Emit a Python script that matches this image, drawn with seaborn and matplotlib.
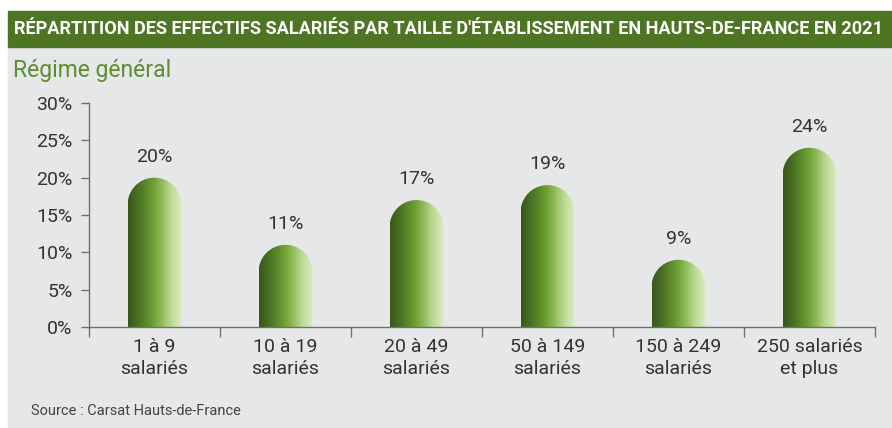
import matplotlib
matplotlib.use('Agg')
import matplotlib.pyplot as plt
import seaborn as sns
import pandas as pd
import numpy as np
from matplotlib.colors import LinearSegmentedColormap
from matplotlib.path import Path
from matplotlib.patches import PathPatch, Rectangle

# données
categories = ['1 à 9\nsalariés', '10 à 19\nsalariés', '20 à 49\nsalariés',
              '50 à 149\nsalariés', '150 à 249\nsalariés', '250 salariés\net plus']
shares = [20, 11, 17, 19, 9, 24]
yticks = [0, 5, 10, 15, 20, 25, 30]

title = "RÉPARTITION DES EFFECTIFS SALARIÉS PAR TAILLE D'ÉTABLISSEMENT EN HAUTS-DE-FRANCE EN 2021"
subtitle = 'Régime général'
source = 'Source : Carsat Hauts-de-France'

W, H = 892, 428
sns.set_theme(style='white')
plt.rcParams['font.family'] = ['Roboto', 'DejaVu Sans']

fig = plt.figure(figsize=(W / 100, H / 100), dpi=100)
fig.patch.set_facecolor('white')

# fond gris + bandeau de titre
fig.patches.append(Rectangle((8 / W, 0), 1 - 8 / W, 1 - 47 / H, transform=fig.transFigure,
                             color='#e6e7e9', zorder=-10))
fig.patches.append(Rectangle((8 / W, 1 - 47 / H), 1 - 8 / W, 36 / H, transform=fig.transFigure,
                             color='#4d7523', zorder=-10))

ax_l, ax_r, ax_b, ax_t = 89, 875, 101, 325
ax = fig.add_axes([ax_l / W, ax_b / H, (ax_r - ax_l) / W, (ax_t - ax_b) / H])
ax.set_facecolor('none')
ax.set_zorder(5)

df = pd.DataFrame({'cat': categories, 'share': shares})
sns.barplot(data=df, x='cat', y='share', width=0.41, color='#6a9b30', ax=ax)
ax.set_xlim(-0.5, 5.5)
ax.set_ylim(0, 30)

# dégradé horizontal des barres
cmap = LinearSegmentedColormap.from_list('vert', [
    (0.0, '#38561b'), (0.2, '#4a7223'), (0.45, '#6a9d31'),
    (0.6, '#8ab653'), (0.8, '#bcd994'), (1.0, '#dbedc2')])
px_x = (ax_r - ax_l) / 6
px_y = (ax_t - ax_b) / 30
grad = np.linspace(0, 1, 256)[None, :]

for p in list(ax.patches):
    x0, w, h = p.get_x(), p.get_width(), p.get_height()
    p.set_visible(False)
    ry = (w * px_x / 2) / px_y
    t = np.linspace(np.pi, 0, 60)
    xs = x0 + w / 2 + (w / 2) * np.cos(t)
    ys = h - ry + ry * np.sin(t)
    verts = [(x0, 0), (x0, h - ry)] + list(zip(xs, ys)) + [(x0 + w, 0), (x0, 0)]
    codes = [Path.MOVETO] + [Path.LINETO] * (len(verts) - 2) + [Path.CLOSEPOLY]
    clip = PathPatch(Path(verts, codes), facecolor='none', edgecolor='none', transform=ax.transData)
    ax.add_patch(clip)
    im = ax.imshow(grad, extent=[x0, x0 + w, 0, h], cmap=cmap, aspect='auto',
                   origin='lower', zorder=2, interpolation='bilinear')
    im.set_clip_path(clip)
    ax.annotate(f'{h:.0f}%', (x0 + w / 2, h), xytext=(0, 15), textcoords='offset points',
                ha='center', va='center', fontsize=14, color='#333333')

ax.set_xlim(-0.5, 5.5)
ax.set_ylim(0, 30)

# axes
sns.despine(ax=ax)
for s in ['left', 'bottom']:
    ax.spines[s].set_color('#707070')
    ax.spines[s].set_linewidth(1)
ax.set_yticks(yticks)
ax.set_yticklabels([f'{v}%' for v in yticks])
ax.tick_params(axis='y', left=True, length=6, width=1, color='#707070', pad=6,
               labelsize=14, labelcolor='#333333')
ax.set_xticks(range(len(categories)))
ax.set_xticklabels(categories, linespacing=1.25)
ax.set_xticks(np.arange(-0.5, 6), minor=True)
ax.tick_params(axis='x', which='major', bottom=False, length=0, pad=8,
               labelsize=14, labelcolor='#333333')
ax.tick_params(axis='x', which='minor', bottom=True, length=7, width=1, color='#707070')
ax.set_xlabel('')
ax.set_ylabel('')

# textes
fig.text(13 / W, 1 - 70 / H, subtitle, va='center', fontsize=16.5, color='#5e8d2f')
fig.text(31 / W, 1 - 411 / H, source, va='center', fontsize=10.5, color='#444444')
tt = fig.text(14 / W, 1 - 29 / H, title, va='center', fontsize=13, fontweight='bold',
              color='white')
r = fig.canvas.get_renderer()
bw = tt.get_window_extent(r).width
tt.set_fontsize(13 * 869 / bw)

fig.savefig('out.png', dpi=100)
